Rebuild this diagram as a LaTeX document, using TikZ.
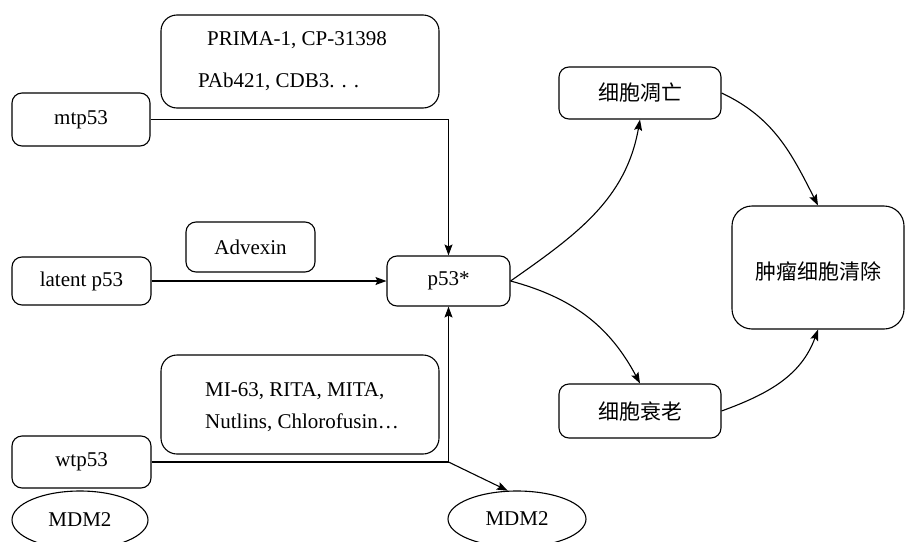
\documentclass[tikz,border=0pt]{standalone}
\usepackage{fontspec}
\setmainfont{Liberation Serif}
\newfontfamily\cjk{Noto Sans CJK SC}
\usetikzlibrary{arrows.meta,shapes.geometric}
\begin{document}
\begin{tikzpicture}[x=1pt,y=-1pt,
  every node/.style={font=\fontsize{21}{25}\selectfont},
  box/.style={draw,line width=1.1pt,rounded corners=10pt,inner sep=0pt},
  bigbox/.style={box,rounded corners=16pt},
  oval/.style={draw,line width=1.1pt,ellipse,inner sep=0pt},
  lbl/.style={inner sep=0pt},
  conn/.style={line width=1.1pt,-{Stealth[length=11pt,width=8pt,inset=2pt]}},
  plain/.style={line width=1.1pt}]
\useasboundingbox (0,0) rectangle (910,541);
\clip (0,0) rectangle (910,541);
\fill[white] (0,0) rectangle (910,541);

% boxes
\node[bigbox,minimum width=278pt,minimum height=93pt] (prima) at (300,61.5) {};
\node[lbl,anchor=west] (primaA) at (207,40) {PRIMA-1, CP-31398};
\node[lbl,anchor=west] (primaB) at (198,82) {PAb421, CDB3. . .};
\node[box,minimum width=138pt,minimum height=53pt] (mtp) at (81,119.5) {mtp53};
\node[box,minimum width=129pt,minimum height=50pt] (adv) at (250.5,247) {Advexin};
\node[box,minimum width=139pt,minimum height=48pt] (lat) at (81.5,281) {latent p53};
\node[box,minimum width=123pt,minimum height=50pt] (p53s) at (448.5,281) {p53*};
\node[box,minimum width=162pt,minimum height=52pt] (apo) at (640,93) {\cjk 细胞凋亡};
\node[bigbox,rounded corners=20pt,minimum width=172pt,minimum height=123pt] (clr) at (818,267.5) {};
\node[lbl] (clrt) at (818,271) {\cjk 肿瘤细胞清除};
\node[box,minimum width=162pt,minimum height=54pt] (sen) at (640,411) {\cjk 细胞衰老};
\node[bigbox,minimum width=278pt,minimum height=99pt] (mi) at (300,404.5) {};
\node[lbl,anchor=west,align=left,font=\fontsize{21}{32}\selectfont] (mit) at (205,407.5) {MI-63, RITA, MITA,\\Nutlins, Chlorofusin\ldots};
\node[box,minimum width=139pt,minimum height=52pt] (wt) at (81.5,462) {wtp53};
\node[oval,minimum width=136pt,minimum height=58pt] (mdl) at (80,520) {MDM2};
\node[oval,minimum width=138pt,minimum height=56pt] (mdr) at (517,519) {MDM2};

% connectors
\draw[conn] (mtp.east) -| (p53s.north);
\draw[conn] (lat.east |- p53s.west) -- (p53s.west);
\coordinate (corner) at (p53s.south |- wt.east);
\draw[plain] (wt.east) -- (corner);
\draw[conn] (corner) -- (p53s.south);
\draw[conn] (corner) -- (mdr.108);
\draw[conn] (p53s.east) to[out=35,in=-100] (apo.south);
\draw[conn] (p53s.east) to[out=-15,in=118] (sen.north);
\draw[conn] (apo.east) to[out=-25,in=117] (clr.north);
\draw[conn] (sen.east) to[out=20,in=-110] (clr.south);
\end{tikzpicture}
\end{document}
